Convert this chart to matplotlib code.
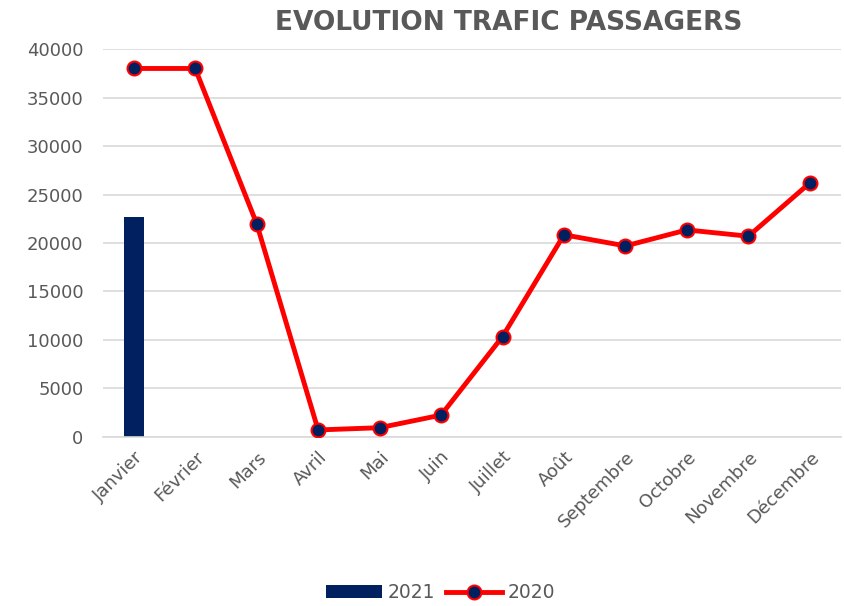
import matplotlib
matplotlib.use('Agg')
import matplotlib.pyplot as plt

months = ["Janvier", "Février", "Mars", "Avril", "Mai", "Juin", "Juillet",
          "Août", "Septembre", "Octobre", "Novembre", "Décembre"]
trafic_2020 = [38000, 38000, 22000, 720, 950, 2250, 10350, 20850,
               19700, 21350, 20700, 26200]
trafic_2021 = [22700]

grey = '#595959'
navy = '#002060'

fig = plt.figure(figsize=(8.44, 6.06), dpi=100)
ax = fig.add_axes([0.122, 0.279, 0.874, 0.640])

x = list(range(len(months)))
bars = ax.bar(x[:len(trafic_2021)], trafic_2021, width=0.33, color=navy, label='2021', zorder=2)
line, = ax.plot(x, trafic_2020, color='red', linewidth=3.5, marker='o', markersize=10,
                markerfacecolor=navy, markeredgecolor='red', markeredgewidth=1.5,
                label='2020', zorder=3)

ax.set_xlim(-0.5, len(months) - 0.5)
ax.set_ylim(0, 40000)
ax.set_yticks(range(0, 40001, 5000))
ax.set_xticks(x)
ax.set_xticklabels(months, rotation=45, ha='right', rotation_mode='anchor')
ax.tick_params(axis='both', length=0, labelsize=13, colors=grey)
ax.tick_params(axis='x', pad=8)
ax.tick_params(axis='y', pad=14)
ax.grid(axis='y', color='#d9d9d9', linewidth=1.2, zorder=0)
ax.set_axisbelow(True)
for s in ['top', 'right', 'left']:
    ax.spines[s].set_visible(False)
ax.spines['bottom'].set_color('#d9d9d9')
ax.spines['bottom'].set_linewidth(1.2)

fig.text(0.603, 0.962, "EVOLUTION TRAFIC PASSAGERS", ha='center', va='center',
         fontsize=19, fontweight='bold', color=grey)

fig.legend([bars, line], ['2021', '2020'], loc='center', bbox_to_anchor=(0.522, 0.022),
           ncol=2, frameon=False, fontsize=13.5, labelcolor=grey, handlelength=3.0,
           columnspacing=0.6, handletextpad=0.3)

fig.savefig('out.png', dpi=100)
